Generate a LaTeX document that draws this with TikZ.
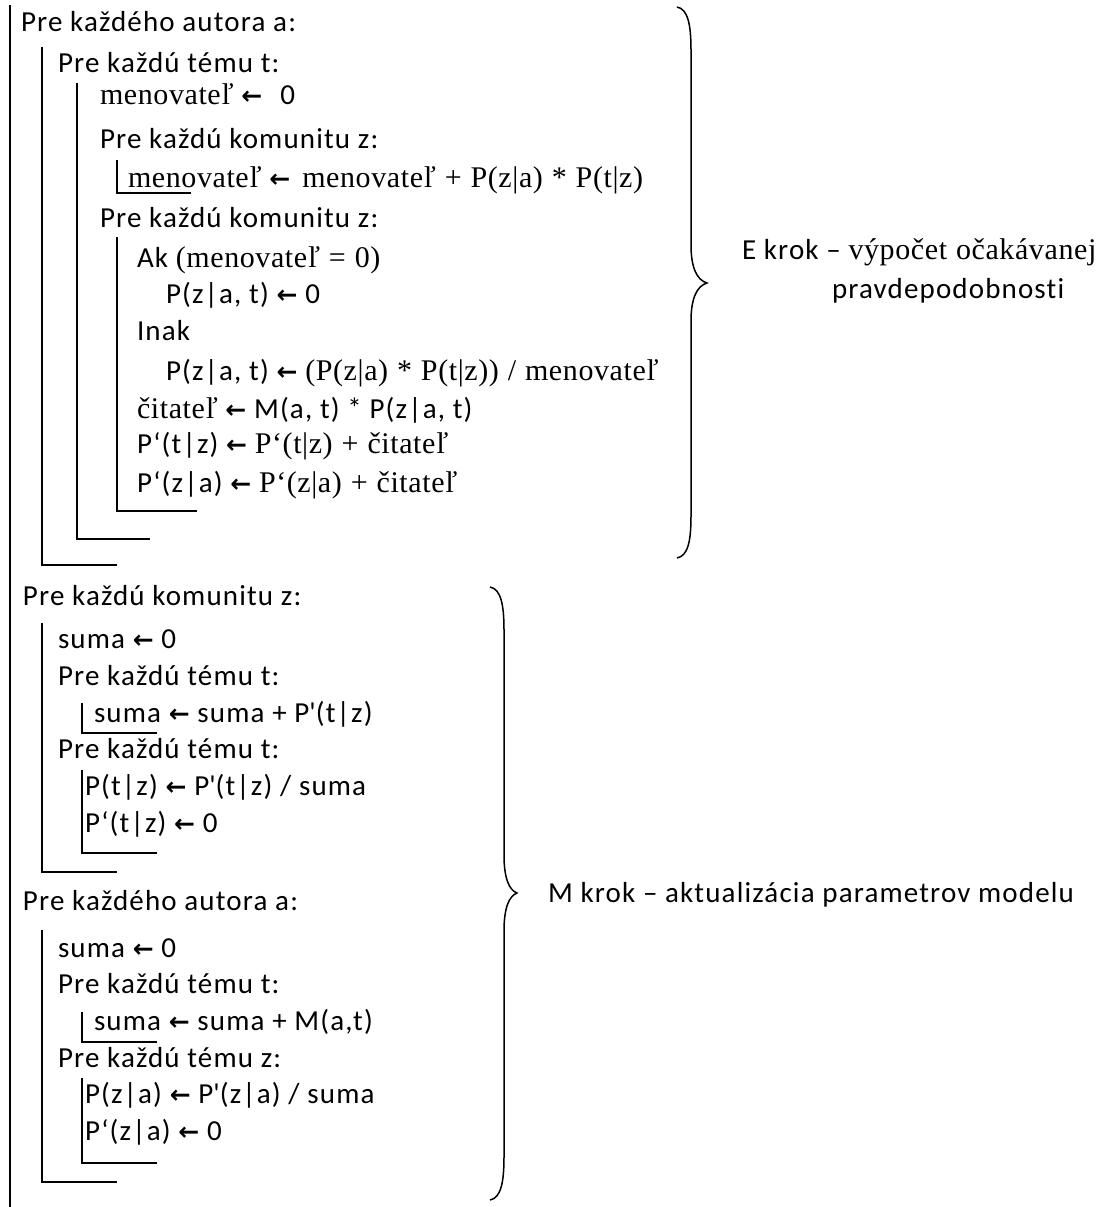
\documentclass[tikz,border=0pt]{standalone}
\usepackage{fontspec}
\setmainfont{Carlito}[LetterSpace=4,Ligatures=NoCommon]
\newfontfamily\sr{Liberation Serif}[LetterSpace=2,WordSpace=1.1]
\newfontfamily\arfont{DejaVu Sans}
\newcommand\la{{\arfont\bfseries\fontsize{25}{25}\selectfont ←}}
\newcommand\pq{\textquotesingle}
\newcommand\srf[1]{{\sr\fontsize{30}{32}\selectfont #1}}
\begin{document}
\begin{tikzpicture}[x=1pt,y=-1pt,
  ln/.style={anchor=base west,inner sep=0pt,outer sep=0pt,font=\fontsize{29}{32}\selectfont},
  bar/.style={line width=1.8pt,line cap=butt},
  brace/.style={line width=1.5pt}]
\useasboundingbox (0,0) rectangle (1108,1207);

% --- E step ---
\node[ln] (e1)  at (21,32)   {Pre každého autora a:};
\node[ln] (e2)  at (58,72)   {Pre každú tému t:};
\node[ln] (e3)  at (100,104) {\srf{menovateľ} \la\hspace{18pt}0};
\node[ln] (e4)  at (100,148) {Pre každú komunitu z:};
\node[ln] (e5)  at (128,187) {\srf{menovateľ} \la\hspace{12pt}\srf{menovateľ + P(z|a) * P(t|z)}};
\node[ln] (e6)  at (100,227) {Pre každú komunitu z:};
\node[ln] (e7)  at (137,267) {Ak \srf{(menovateľ = 0)}};
\node[ln] (e8)  at (166,303) {P(z|a, t) \la\ 0};
\node[ln] (e9)  at (137,340) {Inak};
\node[ln] (e10) at (166,380) {P(z|a, t) \la\ \srf{(P(z|a) * P(t|z)) / menovateľ}};
\node[ln] (e11) at (137,418) {\srf{čitateľ} \la\ M(a, t) * P(z|a, t)};
\node[ln] (e12) at (137,453) {P‘(t|z) \la\ \srf{P‘(t|z) + čitateľ}};
\node[ln] (e13) at (137,492) {P‘(z|a) \la\ \srf{P‘(z|a) + čitateľ}};

% --- M step, topics ---
\node[ln] (m1)  at (23,605)  {Pre každú komunitu z:};
\node[ln] (m2)  at (58,648)  {suma \la\ 0};
\node[ln] (m3)  at (58,685)  {Pre každú tému t:};
\node[ln] (m4)  at (94,722)  {suma \la\ suma + P\pq(t|z)};
\node[ln] (m5)  at (58,758)  {Pre každú tému t:};
\node[ln] (m6)  at (85,795)  {P(t|z) \la\ P\pq(t|z) / suma};
\node[ln] (m7)  at (85,832)  {P‘(t|z) \la\ 0};

% --- M step, authors ---
\node[ln] (n1)  at (23,910)  {Pre každého autora a:};
\node[ln] (n2)  at (58,957)  {suma \la\ 0};
\node[ln] (n3)  at (58,993)  {Pre každú tému t:};
\node[ln] (n4)  at (94,1030) {suma \la\ suma + M(a,t)};
\node[ln] (n5)  at (58,1067) {Pre každú tému z:};
\node[ln] (n6)  at (85,1103) {P(z|a) \la\ P\pq(z|a) / suma};
\node[ln] (n7)  at (85,1140) {P‘(z|a) \la\ 0};

% --- block bars ---
\draw[bar] (10,5) -- (10,1207);
\draw[bar] (42,47) -- (42,565) -- (117,565);
\draw[bar] (77,83) -- (77,539) -- (150,539);
\draw[bar] (117,160) -- (117,193) -- (191,193);
\draw[bar] (117,237) -- (117,511) -- (197,511);

\draw[bar] (42,623) -- (42,872) -- (117,872);
\draw[bar] (82,703) -- (82,733) -- (157,733);
\draw[bar] (82,770) -- (82,853) -- (157,853);

\draw[bar] (42,930) -- (42,1182) -- (117,1182);
\draw[bar] (82,1012) -- (82,1042) -- (157,1042);
\draw[bar] (82,1078) -- (82,1163) -- (157,1163);

% --- braces ---
\draw[brace] (677,7) .. controls (688,9) and (691,25) .. (691,50)
  -- (691,245) .. controls (691,268) and (697,280) .. (707,283)
  .. controls (697,286) and (691,298) .. (691,321)
  -- (691,516) .. controls (691,541) and (688,556) .. (677,558);
\draw[brace] (490,587) .. controls (501,589) and (504,605) .. (504,630)
  -- (504,855) .. controls (504,878) and (509,890) .. (517,893)
  .. controls (509,896) and (504,908) .. (504,931)
  -- (504,1157) .. controls (504,1182) and (501,1198) .. (490,1200);

\node[ln] (el1) at (742,259) {E krok – \srf{výpočet očakávanej}};
\node[ln] (el2) at (832,298) {pravdepodobnosti};
\node[ln] (ml)  at (548,902) {M krok – aktualizácia parametrov modelu};
\end{tikzpicture}
\end{document}
